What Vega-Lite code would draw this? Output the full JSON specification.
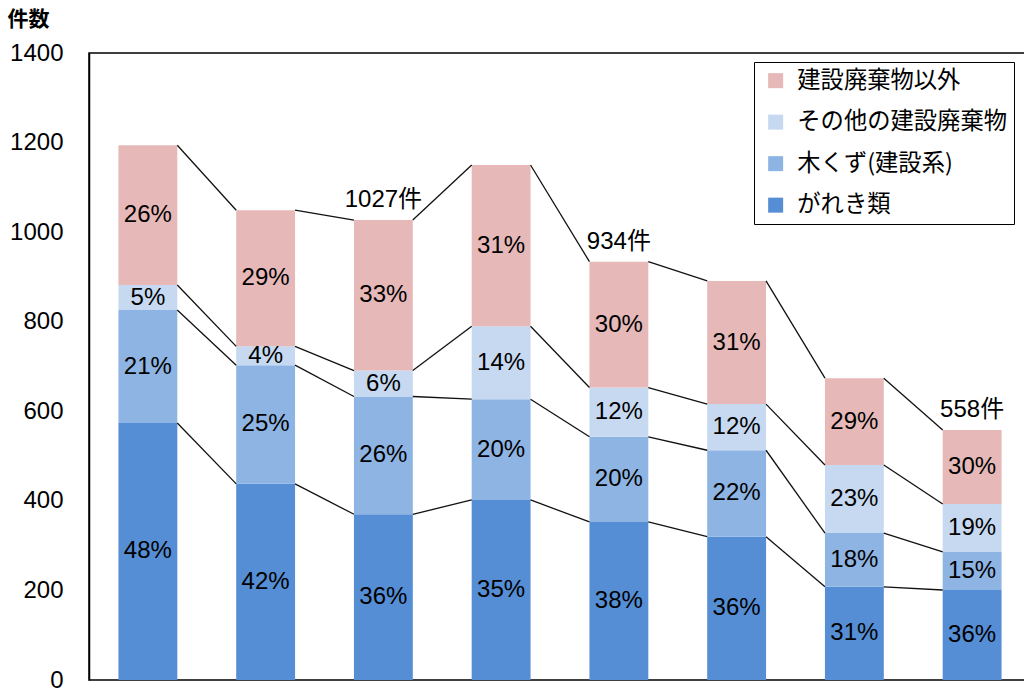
{
  "$schema": "https://vega.github.io/schema/vega-lite/v6.json",
  "width": 942,
  "height": 627,
  "autosize": "none",
  "padding": {"left": 89, "top": 53, "right": 0, "bottom": 10},
  "config": {
    "view": {"stroke": "#000", "strokeWidth": 1.5},
    "font": "Liberation Sans, Noto Sans CJK JP"
  },
  "data": {
    "values": [
      {"cat": 1, "type": "がれき類", "value": 574},
      {"cat": 1, "type": "木くず(建設系)", "value": 252},
      {"cat": 1, "type": "その他の建設廃棄物", "value": 56},
      {"cat": 1, "type": "建設廃棄物以外", "value": 312},
      {"cat": 2, "type": "がれき類", "value": 438},
      {"cat": 2, "type": "木くず(建設系)", "value": 265},
      {"cat": 2, "type": "その他の建設廃棄物", "value": 42},
      {"cat": 2, "type": "建設廃棄物以外", "value": 304},
      {"cat": 3, "type": "がれき類", "value": 370},
      {"cat": 3, "type": "木くず(建設系)", "value": 263},
      {"cat": 3, "type": "その他の建設廃棄物", "value": 58},
      {"cat": 3, "type": "建設廃棄物以外", "value": 336},
      {"cat": 4, "type": "がれき類", "value": 402},
      {"cat": 4, "type": "木くず(建設系)", "value": 225},
      {"cat": 4, "type": "その他の建設廃棄物", "value": 163},
      {"cat": 4, "type": "建設廃棄物以外", "value": 360},
      {"cat": 5, "type": "がれき類", "value": 353},
      {"cat": 5, "type": "木くず(建設系)", "value": 190},
      {"cat": 5, "type": "その他の建設廃棄物", "value": 110},
      {"cat": 5, "type": "建設廃棄物以外", "value": 281},
      {"cat": 6, "type": "がれき類", "value": 320},
      {"cat": 6, "type": "木くず(建設系)", "value": 193},
      {"cat": 6, "type": "その他の建設廃棄物", "value": 103},
      {"cat": 6, "type": "建設廃棄物以外", "value": 275},
      {"cat": 7, "type": "がれき類", "value": 208},
      {"cat": 7, "type": "木くず(建設系)", "value": 120},
      {"cat": 7, "type": "その他の建設廃棄物", "value": 152},
      {"cat": 7, "type": "建設廃棄物以外", "value": 194},
      {"cat": 8, "type": "がれき類", "value": 201},
      {"cat": 8, "type": "木くず(建設系)", "value": 85},
      {"cat": 8, "type": "その他の建設廃棄物", "value": 107},
      {"cat": 8, "type": "建設廃棄物以外", "value": 165}
    ]
  },
  "transform": [
    {"calculate": "indexof(['がれき類','木くず(建設系)','その他の建設廃棄物','建設廃棄物以外'], datum.type)", "as": "k"},
    {"stack": "value", "groupby": ["cat"], "sort": [{"field": "k", "order": "ascending"}], "as": ["y0", "y1"]},
    {"joinaggregate": [{"op": "sum", "field": "value", "as": "total"}], "groupby": ["cat"]},
    {"calculate": "round(datum.value / datum.total * 100) + '%'", "as": "pct"},
    {"calculate": "(datum.y0 + datum.y1) / 2", "as": "ymid"}
  ],
  "encoding": {
    "x": {
      "field": "cat",
      "type": "ordinal",
      "axis": null,
      "scale": {"paddingInner": 0.5, "paddingOuter": 0.25}
    }
  },
  "layer": [
    {
      "mark": {"type": "bar"},
      "encoding": {
        "y": {
          "field": "y0",
          "type": "quantitative",
          "scale": {"domain": [0, 1400], "nice": false},
          "axis": {
            "values": [0, 200, 400, 600, 800, 1000, 1200, 1400],
            "format": "d",
            "grid": false,
            "ticks": false,
            "tickSize": 0,
            "domain": true,
            "domainColor": "#000",
            "domainWidth": 1.5,
            "labelFontSize": 24,
            "labelColor": "#000",
            "labelPadding": 26,
            "labelFont": "Liberation Sans",
            "title": "件数",
            "titleAngle": 0,
            "titleX": -82,
            "titleY": -34,
            "titleAlign": "left",
            "titleBaseline": "middle",
            "titleFontSize": 21,
            "titleFontWeight": "bold",
            "titleFont": "Noto Sans CJK JP",
            "titleColor": "#000"
          }
        },
        "y2": {"field": "y1"},
        "color": {
          "field": "type",
          "type": "nominal",
          "scale": {
            "domain": ["建設廃棄物以外", "その他の建設廃棄物", "木くず(建設系)", "がれき類"],
            "range": ["#E6B9B8", "#C6D9F1", "#8EB4E3", "#558ED5"]
          },
          "legend": {
            "title": null,
            "orient": "none",
            "legendX": 665,
            "legendY": 9,
            "fillColor": "#fff",
            "strokeColor": "#000",
            "padding": 7,
            "symbolOffset": 3,
            "symbolType": "square",
            "symbolSize": 225,
            "symbolStrokeWidth": 0,
            "symbolOpacity": 1,
            "labelFont": "Noto Sans CJK JP",
            "labelFontSize": 23.3,
            "labelColor": "#000",
            "labelOffset": 10,
            "rowPadding": 17.5,
            "labelLimit": 400
          }
        }
      }
    },
    {
      "transform": [
        {"window": [{"op": "lead", "field": "y1", "as": "ny1"}, {"op": "lead", "field": "cat", "as": "ncat"}], "groupby": ["type"], "sort": [{"field": "cat", "order": "ascending"}]},
        {"filter": "datum.ncat != null"}
      ],
      "mark": {"type": "rule", "color": "#111", "strokeWidth": 1.3, "xOffset": 29.4, "x2Offset": -29.4},
      "encoding": {
        "x2": {"field": "ncat"},
        "y": {"field": "y1", "type": "quantitative"},
        "y2": {"field": "ny1"}
      }
    },
    {
      "mark": {"type": "text", "fontSize": 24, "color": "#000", "font": "Liberation Sans", "baseline": "middle"},
      "encoding": {
        "y": {"field": "ymid", "type": "quantitative"},
        "text": {"field": "pct", "type": "nominal"}
      }
    },
    {
      "transform": [
        {"filter": "datum.k == 3 && (datum.cat == 3 || datum.cat == 5 || datum.cat == 8)"},
        {"calculate": "datum.total + '件'", "as": "tlabel"}
      ],
      "mark": {"type": "text", "fontSize": 24, "color": "#000", "font": "Liberation Sans, Noto Sans CJK JP", "baseline": "alphabetic", "dy": -13},
      "encoding": {
        "y": {"field": "y1", "type": "quantitative"},
        "text": {"field": "tlabel", "type": "nominal"}
      }
    }
  ]
}
